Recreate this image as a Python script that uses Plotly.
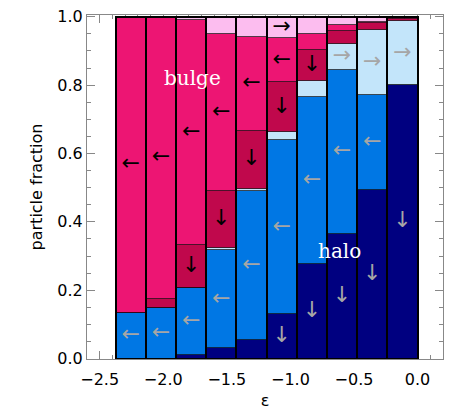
import numpy as np
import plotly.graph_objects as go

# bin centres in epsilon
eps = [-2.256, -2.019, -1.781, -1.544, -1.306, -1.069, -0.831, -0.594, -0.356, -0.119]
bin_width = 0.2375

# particle fractions per bin, bottom to top of each stacked bar
halo_stay = [0.000, 0.000, 0.012, 0.030, 0.056, 0.131, 0.277, 0.365, 0.494, 0.800]
halo_in = [0.134, 0.1485, 0.195, 0.287, 0.4335, 0.508, 0.489, 0.480, 0.278, 0.000]
halo_out = [0.000, 0.000, 0.000, 0.007, 0.0075, 0.023, 0.045, 0.075, 0.190, 0.187]
bulge_stay = [0.000, 0.027, 0.125, 0.1675, 0.170, 0.146, 0.091, 0.037, 0.019, 0.006]
bulge_in = [0.866, 0.8245, 0.659, 0.4591, 0.274, 0.130, 0.046, 0.018, 0.003, 0.003]
bulge_out = [0.000, 0.000, 0.009, 0.0494, 0.059, 0.062, 0.052, 0.025, 0.016, 0.004]

components = [
    (halo_stay, '#000080', '↓', '#a6a6a6'),
    (halo_in, '#0077e4', '←', '#a6a6a6'),
    (halo_out, '#c3e5fa', '→', '#a6a6a6'),
    (bulge_stay, '#c0084c', '↓', 'black'),
    (bulge_in, '#ed1573', '←', 'black'),
    (bulge_out, '#fcbdef', '→', 'black'),
]

fig = go.Figure()

base = np.zeros(len(eps))
arrows = []
for values, color, arrow, arrow_color in components:
    values = np.array(values)
    fig.add_trace(go.Bar(
        x=eps,
        y=values,
        base=base,
        width=bin_width,
        marker=dict(color=color, line=dict(color='rgba(0,0,0,0.55)', width=1)),
        hoverinfo='skip',
        showlegend=False
    ))
    show = values > 0.06
    arrows.append((np.array(eps)[show], (base + values / 2)[show], arrow, arrow_color))
    base = base + values

# black outline around each whole bar
fig.add_trace(go.Bar(
    x=eps,
    y=base,
    base=0,
    width=bin_width,
    marker=dict(color='rgba(0,0,0,0)', line=dict(color='black', width=2)),
    hoverinfo='skip',
    showlegend=False
))

for ax, ay, arrow, arrow_color in arrows:
    fig.add_trace(go.Scatter(
        x=ax,
        y=ay,
        mode='text',
        text=[arrow] * len(ax),
        textposition='middle center',
        textfont=dict(family='DejaVu Sans', size=22, color=arrow_color),
        hoverinfo='skip',
        showlegend=False
    ))

fig.add_annotation(x=-1.77, y=0.822, text='bulge', showarrow=False,
                   font=dict(family='DejaVu Serif', size=20, color='white'))
fig.add_annotation(x=-0.613, y=0.316, text='halo', showarrow=False,
                   font=dict(family='DejaVu Serif', size=20, color='white'))

# the page body adds an 8px offset, so the figure is drawn 8px smaller
fig.update_layout(
    width=455,
    height=409,
    margin=dict(l=79, r=20, t=7, b=58),
    barmode='overlay',
    bargap=0,
    plot_bgcolor='white',
    paper_bgcolor='white',
    font=dict(family='DejaVu Sans', size=16, color='black'),
    xaxis=dict(
        range=[-2.6, 0.2],
        dtick=0.5,
        tickformat='.1f',
        showgrid=False,
        zeroline=False,
        showline=True,
        linecolor='#888',
        linewidth=1,
        mirror='ticks',
        ticks='inside',
        ticklen=8,
        tickcolor='#888',
        ticklabelstandoff=6,
        ticklabeloverflow='allow',
        layer='below traces',
        automargin=False,
        minor=dict(dtick=0.1, ticks='inside', ticklen=4, tickcolor='#888', showgrid=False),
        title=dict(text='ε', font=dict(size=16), standoff=6)
    ),
    yaxis=dict(
        range=[-0.001, 1.005],
        dtick=0.2,
        tickformat='.1f',
        showgrid=False,
        zeroline=False,
        showline=True,
        linecolor='#888',
        linewidth=1,
        mirror='ticks',
        ticks='inside',
        ticklen=8,
        tickcolor='#888',
        ticklabeloverflow='allow',
        layer='below traces',
        automargin=False,
        minor=dict(dtick=0.05, ticks='inside', ticklen=4, tickcolor='#888', showgrid=False),
        title=dict(text='particle fraction', font=dict(size=16), standoff=10)
    )
)

fig.write_html("out.html")
